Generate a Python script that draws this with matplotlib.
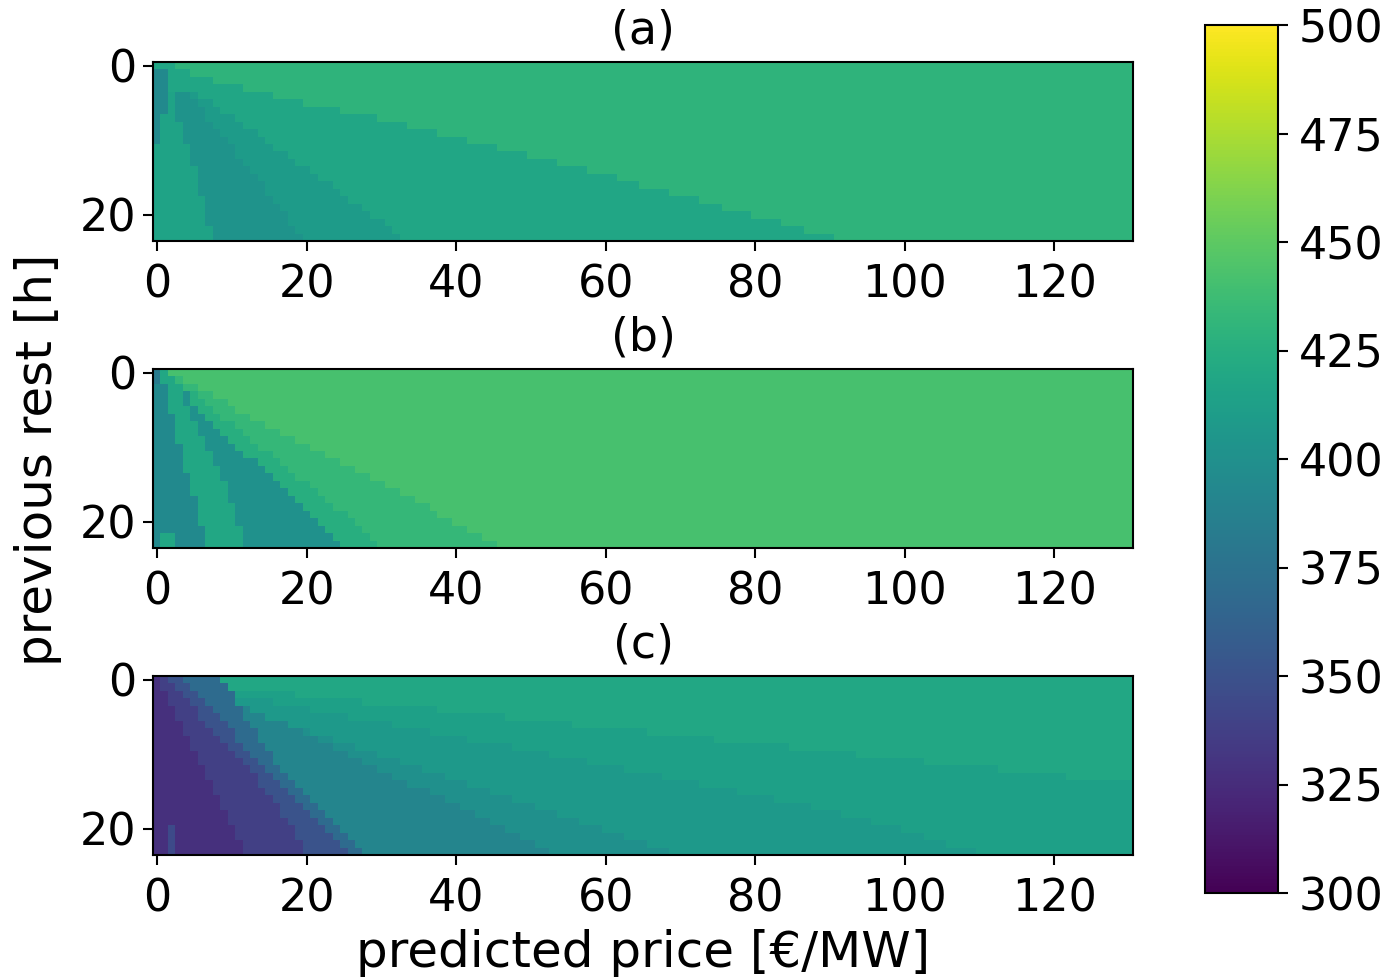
import matplotlib.pyplot as plt
import numpy as np

N_ROWS = 24
N_COLS = 131

# colour levels of the bands, left to right within a row
levels_a = [395, 416, 403, 410, 418, 430]
levels_b = [383, 395, 420, 401, 425, 433, 442]
levels_c = [328, 338, 351, 370, 391, 400, 408, 414, 420]

# per row: first column of each next band
a_e0 = [0, 2, 2, 2, 2, 2, 2, 1, 1, 1, 1, 0, 0, 0, 0, 0, 0, 0, 0, 0, 0, 0, 0, 0]
a_e1 = [0, 2, 2, 2, 3, 3, 3, 3, 4, 4, 4, 5, 5, 5, 6, 6, 6, 6, 7, 7, 7, 7, 8, 8]
a_e2 = [0, 2, 2, 2, 5, 6, 7, 7, 8, 9, 10, 11, 11, 12, 13, 14, 15, 15, 16, 17, 18, 18, 19, 20]
a_e3 = [0, 2, 2, 2, 6, 8, 9, 11, 12, 14, 15, 16, 18, 19, 21, 22, 24, 25, 26, 28, 29, 31, 32, 33]
a_e4 = [3, 5, 8, 12, 16, 20, 25, 30, 34, 38, 42, 46, 50, 54, 58, 62, 65, 69, 73, 76, 80, 84, 87, 91]

b_e0 = [1, 1, 0, 0, 0, 0, 0, 0, 0, 0, 0, 0, 0, 0, 0, 0, 0, 0, 0, 0, 0, 0, 0, 0]
b_e1 = [1, 1, 2, 2, 2, 2, 3, 3, 3, 3, 4, 4, 4, 4, 5, 5, 5, 6, 6, 6, 6, 7, 7, 7]
b_e2 = [2, 3, 4, 4, 4, 5, 5, 6, 6, 7, 7, 8, 8, 9, 9, 10, 10, 10, 11, 11, 11, 12, 12, 12]
b_e3 = [2, 3, 4, 5, 5, 6, 7, 8, 9, 10, 11, 12, 14, 15, 16, 17, 18, 19, 20, 21, 22, 23, 24, 25]
b_e4 = [2, 3, 4, 6, 7, 8, 9, 11, 12, 13, 14, 16, 17, 18, 19, 21, 22, 23, 24, 26, 27, 28, 29, 30]
b_e5 = [2, 4, 6, 8, 10, 11, 13, 15, 17, 19, 21, 23, 25, 27, 29, 31, 33, 35, 37, 38, 40, 42, 44, 46]

c_f1 = [1, 1, 2, 2, 3, 3, 4, 4, 5, 5, 6, 6, 7, 7, 8, 8, 9, 9, 10, 10, 11, 11, 12, 12]
c_f2 = [2, 3, 4, 5, 6, 6, 7, 8, 9, 10, 11, 12, 13, 14, 14, 15, 16, 17, 17, 18, 19, 19, 20, 20]
c_f3 = [4, 5, 6, 7, 8, 9, 10, 11, 11, 12, 13, 14, 15, 16, 17, 18, 19, 20, 21, 22, 23, 24, 25, 26]
c_f4 = [9, 10, 11, 11, 12, 12, 13, 14, 14, 15, 16, 16, 17, 18, 19, 20, 21, 22, 23, 24, 25, 26, 27, 28]
c_g1 = [9, 10, 11, 11, 13, 15, 18, 20, 22, 24, 26, 28, 30, 32, 34, 37, 39, 41, 43, 45, 47, 49, 51, 53]
c_g2 = [9, 10, 11, 11, 13, 15, 18, 21, 24, 27, 30, 33, 36, 39, 42, 45, 48, 51, 54, 57, 60, 63, 66, 69]
c_g3 = [9, 10, 11, 16, 21, 26, 32, 37, 42, 48, 53, 58, 63, 68, 73, 78, 83, 88, 92, 96, 100, 103, 106, 110]
c_g4 = [9, 10, 19, 28, 38, 47, 56, 66, 75, 85, 94, 103, 113, 122, 131, 131, 131, 131, 131, 131, 131, 131, 131, 131]

# single odd cells: (row_start, row_end, col_start, col_end, value)
patches_b = [(22, 24, 1, 3, 420)]
patches_c = [(20, 24, 2, 3, 345)]


def build(edges, levels, patches):
    grid = np.zeros((N_ROWS, N_COLS))
    cols = np.arange(N_COLS)
    lv = np.array(levels)
    for r in range(N_ROWS):
        k = np.zeros(N_COLS, dtype=int)
        for e in edges:
            k += cols >= e[r]
        grid[r] = lv[k]
    for r0, r1, c0, c1, v in patches:
        grid[r0:r1, c0:c1] = v
    return grid


grid_a = build([a_e0, a_e1, a_e2, a_e3, a_e4], levels_a, [])
grid_b = build([b_e0, b_e1, b_e2, b_e3, b_e4, b_e5], levels_b, patches_b)
grid_c = build([c_f1, c_f2, c_f3, c_f4, c_g1, c_g2, c_g3, c_g4], levels_c, patches_c)

FS = 32
plt.rcParams['font.size'] = FS

fig = plt.figure(figsize=(13.89, 9.8), dpi=100)
W, H = 1389, 980
boxes = [(153.3, 62, 1133, 241), (153.3, 369, 1133, 548), (153.3, 676, 1133, 855)]
grids = [grid_a, grid_b, grid_c]
titles = ['(a)', '(b)', '(c)']

for (x0, y0, x1, y1), grid, title in zip(boxes, grids, titles):
    ax = fig.add_axes([x0 / W, 1 - y1 / H, (x1 - x0) / W, (y1 - y0) / H])
    im = ax.imshow(grid, cmap='viridis', vmin=300, vmax=500, aspect='auto',
                   interpolation='nearest')
    ax.set_title(title, fontsize=33, pad=13)
    ax.set_xticks(range(0, 121, 20))
    ax.set_yticks([0, 20])
    ax.tick_params(length=7, width=1.5, pad=5)
    ax.tick_params(axis='x', pad=9)
    for s in ax.spines.values():
        s.set_linewidth(1.5)

cax = fig.add_axes([1205 / W, 1 - 893 / H, 73 / W, 868 / H])
cb = fig.colorbar(im, cax=cax, ticks=range(300, 501, 25))
cb.ax.tick_params(length=7, width=1.5, pad=8)
cb.outline.set_linewidth(1.5)

fig.text(38 / W, 1 - 460 / H, 'previous rest [h]', fontsize=36, rotation=90,
         ha='center', va='center')
fig.text(643 / W, 1 - 953 / H, 'predicted price [€/MW]', fontsize=36,
         ha='center', va='center')

fig.savefig('out.png', dpi=100)
